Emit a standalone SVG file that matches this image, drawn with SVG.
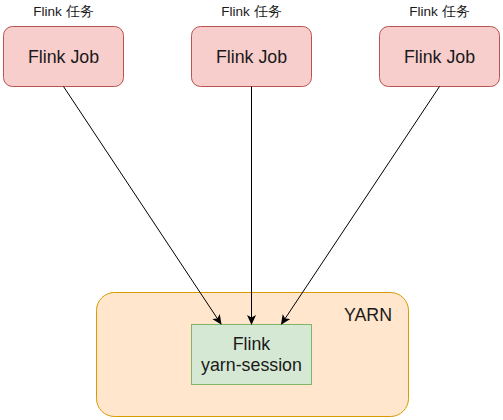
<svg xmlns="http://www.w3.org/2000/svg" width="503" height="420" viewBox="0 0 503 420">
<style>
text{font-family:"Liberation Sans",Arial,sans-serif;fill:#1a1a1a;text-anchor:middle}
.job{fill:#f8cecc;stroke:#b85450;stroke-width:1}
.lbl{font-size:13.5px}
.big{font-size:17.8px}
.edge{stroke:#000;stroke-width:1;fill:none;marker-end:url(#arr)}
</style>
<defs>
<marker id="arr" viewBox="0 0 10 10" refX="9" refY="5" markerWidth="10" markerHeight="10" markerUnits="userSpaceOnUse" orient="auto">
<path d="M0,0.5 L10,5 L0,9.5 L2.5,5 Z" fill="#000"/>
</marker>
</defs>
<rect width="503" height="420" fill="#fff"/>
<g id="yarn">
<rect x="96.5" y="292.5" width="312" height="124" rx="18" fill="#ffe6cc" stroke="#d79b00"/>
<text class="big" x="368" y="321">YARN</text>
</g>
<g id="session">
<rect x="191.5" y="324.5" width="120" height="60" fill="#d5e8d4" stroke="#82b366"/>
<text class="big" x="251.5" y="350">Flink</text>
<text class="big" x="251.5" y="371">yarn-session</text>
</g>
<g id="job1">
<text class="lbl" x="63.5" y="16">Flink 任务</text>
<rect class="job" x="3.5" y="26.5" width="120" height="60" rx="9"/>
<text class="big" x="63.5" y="63">Flink Job</text>
</g>
<g id="job2">
<text class="lbl" x="251.5" y="16">Flink 任务</text>
<rect class="job" x="191.5" y="26.5" width="120" height="60" rx="9"/>
<text class="big" x="251.5" y="63">Flink Job</text>
</g>
<g id="job3">
<text class="lbl" x="439.5" y="16">Flink 任务</text>
<rect class="job" x="379.5" y="26.5" width="120" height="60" rx="9"/>
<text class="big" x="439.5" y="63">Flink Job</text>
</g>
<g id="connectors">
<path class="edge" d="M63.5,86.5 L221,324"/>
<path class="edge" d="M251.5,86.5 L251.5,324"/>
<path class="edge" d="M439.5,86.5 L281.5,324"/>
</g>
</svg>
